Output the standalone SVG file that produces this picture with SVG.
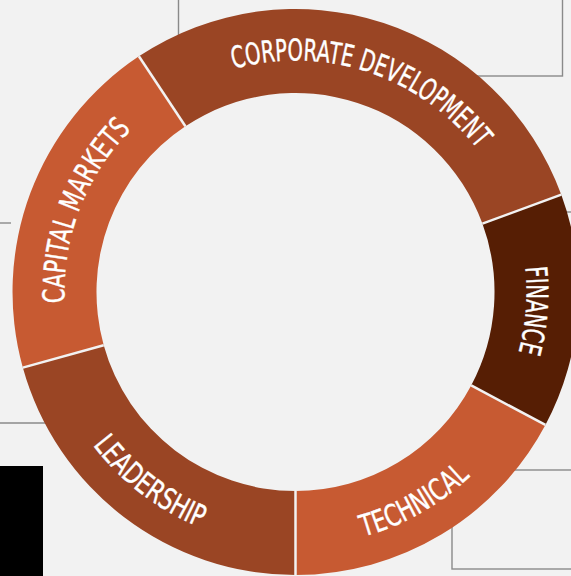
<svg xmlns="http://www.w3.org/2000/svg" xmlns:xlink="http://www.w3.org/1999/xlink" width="571" height="576" viewBox="0 0 571 576">
  <style>
    .frame { fill: none; stroke: #8a8a8a; stroke-width: 1.4; }
    .dark { fill: #9a4524; }
    .light { fill: #c75a32; }
    .deep { fill: #561e04; }
    .divider { stroke: #f2f2f2; stroke-width: 2.5; }
    .label { fill: #ffffff; stroke: #ffffff; stroke-width: 0.4; font-family: "Liberation Sans Narrow", "DejaVu Sans Condensed", "Liberation Sans", sans-serif; font-size: 30px; }
  </style>
  <defs>
    <path id="p-corp" d="M91.6,183.1 A231,231 0 0 1 524.1,325.3"/>
    <path id="p-fin" d="M426.4,101.6 A231,231 0 0 1 394.9,500.5"/>
    <path id="p-cap" d="M116.0,437.4 A231,231 0 0 1 259.4,63.8"/>
    <path id="p-tech" d="M166.6,510.9 A254,254 0 0 0 549.5,294.2"/>
    <path id="p-lead" d="M43.7,258.9 A254,254 0 0 0 392.7,526.7"/>
  </defs>
  <rect x="0" y="0" width="571" height="576" fill="#f2f2f2"/>

  <g id="frames">
    <rect class="frame" x="178.5" y="-10" width="384" height="86"/>
    <line class="frame" x1="0" y1="223" x2="11" y2="223"/>
    <line class="frame" x1="0" y1="423" x2="48" y2="423"/>
    <line class="frame" x1="540" y1="212" x2="571" y2="212"/>
    <rect class="frame" x="452" y="470" width="130" height="99"/>
  </g>

  <rect id="black-panel" x="0" y="466" width="43" height="110" fill="#000000"/>

  <g id="corporate-development">
    <path class="dark" d="M138.9,56.3 A283,283 0 0 1 561.3,194.7 L482.4,223.6 A199,199 0 0 0 185.4,126.3 Z"/>
    <text class="label"><textPath xlink:href="#p-corp" href="#p-corp" startOffset="50%" text-anchor="middle" textLength="272" lengthAdjust="spacingAndGlyphs">CORPORATE DEVELOPMENT</textPath></text>
  </g>
  <g id="finance">
    <path class="deep" d="M561.3,194.7 A283,283 0 0 1 545.4,424.9 L471.2,385.4 A199,199 0 0 0 482.4,223.6 Z"/>
    <text class="label"><textPath xlink:href="#p-fin" href="#p-fin" startOffset="50%" text-anchor="middle" textLength="86" lengthAdjust="spacingAndGlyphs">FINANCE</textPath></text>
  </g>
  <g id="technical">
    <path class="light" d="M545.4,424.9 A283,283 0 0 1 295.5,575 L295.5,491 A199,199 0 0 0 471.2,385.4 Z"/>
    <text class="label"><textPath xlink:href="#p-tech" href="#p-tech" startOffset="50%" text-anchor="middle" textLength="124" lengthAdjust="spacingAndGlyphs">TECHNICAL</textPath></text>
  </g>
  <g id="leadership">
    <path class="dark" d="M295.5,575 A283,283 0 0 1 22.8,367.6 L103.7,345.2 A199,199 0 0 0 295.5,491 Z"/>
    <text class="label"><textPath xlink:href="#p-lead" href="#p-lead" startOffset="50%" text-anchor="middle" textLength="137" lengthAdjust="spacingAndGlyphs">LEADERSHIP</textPath></text>
  </g>
  <g id="capital-markets">
    <path class="light" d="M22.8,367.6 A283,283 0 0 1 138.9,56.3 L185.4,126.3 A199,199 0 0 0 103.7,345.2 Z"/>
    <text class="label"><textPath xlink:href="#p-cap" href="#p-cap" startOffset="50%" text-anchor="middle" textLength="191" lengthAdjust="spacingAndGlyphs">CAPITAL MARKETS</textPath></text>
  </g>

  <g id="dividers">
    <line class="divider" x1="138.9" y1="56.3" x2="185.4" y2="126.3"/>
    <line class="divider" x1="561.3" y1="194.7" x2="482.4" y2="223.6"/>
    <line class="divider" x1="545.4" y1="424.9" x2="471.2" y2="385.4"/>
    <line class="divider" x1="295.5" y1="575" x2="295.5" y2="491"/>
    <line class="divider" x1="22.8" y1="367.6" x2="103.7" y2="345.2"/>
  </g>
</svg>
